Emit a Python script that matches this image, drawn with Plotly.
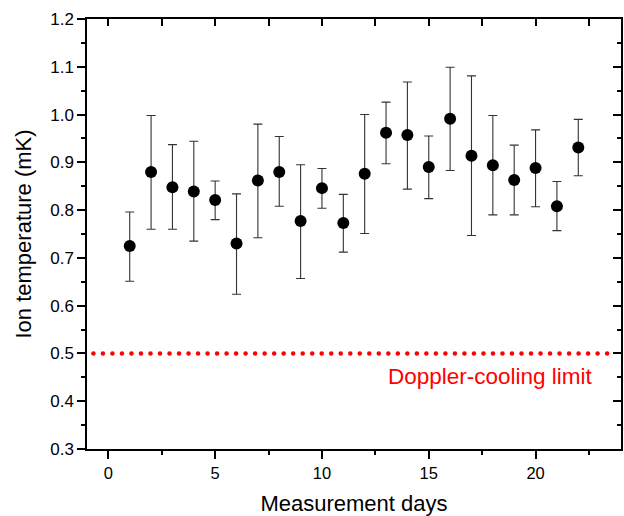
import numpy as np
import plotly.graph_objects as go

days = list(range(1, 23))
temp = [0.725, 0.880, 0.848, 0.839, 0.821, 0.730, 0.862, 0.880, 0.777, 0.846, 0.773,
        0.876, 0.962, 0.957, 0.890, 0.991, 0.914, 0.894, 0.863, 0.888, 0.808, 0.931]
upper = [0.796, 0.998, 0.937, 0.944, 0.861, 0.834, 0.980, 0.954, 0.895, 0.887, 0.833,
         1.000, 1.026, 1.068, 0.955, 1.099, 1.081, 0.998, 0.936, 0.968, 0.860, 0.990]
lower = [0.651, 0.760, 0.760, 0.735, 0.780, 0.624, 0.742, 0.808, 0.657, 0.804, 0.712,
         0.751, 0.897, 0.844, 0.824, 0.883, 0.747, 0.790, 0.790, 0.807, 0.757, 0.872]
doppler_limit = 0.5
limit_label = "Doppler-cooling limit"

err_plus = [u - t for u, t in zip(upper, temp)]
err_minus = [t - l for t, l in zip(temp, lower)]

FONT = "Arial, Liberation Sans, sans-serif"

fig = go.Figure()

# dotted Doppler limit line drawn as round dots
dot_x = np.linspace(-0.7, 23.35, 55)
fig.add_trace(go.Scatter(
    x=dot_x, y=[doppler_limit] * len(dot_x), mode="markers",
    marker=dict(color="#ff0000", size=4.5, line=dict(width=0)),
    hoverinfo="skip", showlegend=False))

fig.add_trace(go.Scatter(
    x=days, y=temp, mode="markers",
    marker=dict(color="black", size=12, line=dict(width=0)),
    error_y=dict(type="data", symmetric=False, array=err_plus, arrayminus=err_minus,
                 color="#333333", thickness=1.1, width=4.5),
    showlegend=False))

fig.add_annotation(x=22.8, y=0.451, xref="x", yref="y", text=limit_label,
                   showarrow=False, xanchor="right", yanchor="middle",
                   font=dict(family=FONT, size=22.5, color="#ff0000"))

fig.update_layout(
    width=624, height=516,
    margin=dict(l=87, r=3, t=19, b=67),
    paper_bgcolor="white", plot_bgcolor="white",
    font=dict(family=FONT, color="black"),
    xaxis=dict(range=[-1, 24], tickvals=[0, 5, 10, 15, 20], ticks="outside", ticklen=8,
               tickwidth=1.5, tickcolor="black", showline=True, linecolor="black", linewidth=1.5,
               showgrid=False, zeroline=False, tickfont=dict(size=16.5, family=FONT),
               automargin=False,
               minor=dict(tickvals=[2.5, 7.5, 12.5, 17.5, 22.5], ticks="outside", ticklen=4,
                          tickwidth=1.5, tickcolor="black", showgrid=False),
               title=dict(text="Measurement days", font=dict(size=22, family=FONT), standoff=18)),
    yaxis=dict(range=[0.3, 1.2], tickvals=[0.3, 0.4, 0.5, 0.6, 0.7, 0.8, 0.9, 1.0, 1.1, 1.2],
               tickformat=".1f", ticks="outside", ticklen=8, tickwidth=1.5, tickcolor="black",
               showline=True, linecolor="black", linewidth=1.5, showgrid=False, zeroline=False,
               tickfont=dict(size=17, family=FONT), automargin=False,
               minor=dict(tickvals=[0.35, 0.45, 0.55, 0.65, 0.75, 0.85, 0.95, 1.05, 1.15],
                          ticks="outside", ticklen=4, tickwidth=1.5, tickcolor="black", showgrid=False),
               title=dict(text="Ion temperature (mK)", font=dict(size=22, family=FONT), standoff=13)),
    xaxis2=dict(overlaying="x", side="top", matches="x", range=[-1, 24],
                tickvals=[0, 2.5, 5, 7.5, 10, 12.5, 15, 17.5, 20, 22.5], ticks="inside", ticklen=7,
                tickwidth=1.5, tickcolor="black", showticklabels=False, showline=True,
                linecolor="black", linewidth=1.5, showgrid=False, zeroline=False),
    yaxis2=dict(overlaying="y", side="right", range=[0.3, 1.2],
                tickvals=[0.3, 0.4, 0.5, 0.6, 0.7, 0.8, 0.9, 1.0, 1.1, 1.2], ticks="inside", ticklen=8,
                tickwidth=1.5, tickcolor="black", showticklabels=False, showline=True,
                linecolor="black", linewidth=1.5, showgrid=False, zeroline=False,
                minor=dict(tickvals=[0.35, 0.45, 0.55, 0.65, 0.75, 0.85, 0.95, 1.05, 1.15],
                           ticks="inside", ticklen=4, tickwidth=1.5, tickcolor="black", showgrid=False)),
)

# invisible trace to activate the mirror axes
fig.add_trace(go.Scatter(x=[None], y=[None], xaxis="x2", yaxis="y2", showlegend=False,
                         hoverinfo="skip"))

fig.write_html("out.html", config={"displayModeBar": False},
               post_script="document.body.style.margin='0';")
